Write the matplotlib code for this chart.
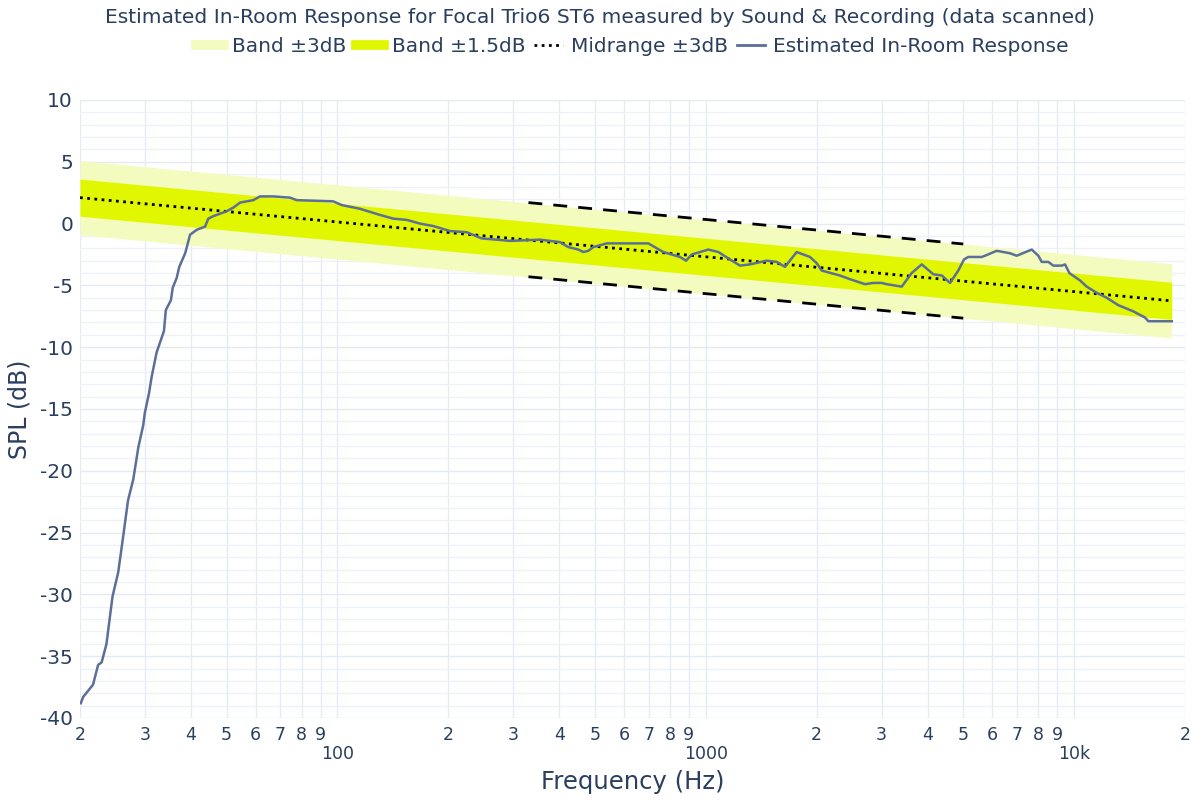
import numpy as np
import matplotlib.pyplot as plt
from matplotlib.lines import Line2D

# Estimated in-room response
freq = [20.1, 20.4, 21.7, 22.4, 22.9, 23.6, 24.5, 25.4, 26.2, 27.0, 27.9, 28.8,
        29.7, 30.0, 30.8, 31.3, 32.3, 33.0, 33.8, 34.2, 35.3, 35.7, 36.6, 37.2,
        38.6, 39.8, 41.5, 43.7, 44.6, 46.0, 50.0, 52.2, 54.4, 59.1, 61.6, 67.0,
        74.3, 77.5, 97.4, 102.7, 115.1, 130.5, 141.8, 154.2, 167.6, 182.1, 202,
        224.4, 246.4, 270.6, 294.2, 354.8, 402, 423.4, 450.9, 465.1, 479.8, 495,
        538.3, 698, 766.7, 851, 884, 915.8, 1016, 1082, 1163, 1239, 1318, 1463,
        1558, 1641, 1765, 1918, 2000, 2064, 2314, 2464, 2706, 2850, 3004, 3098,
        3404, 3622, 3858, 4148, 4372, 4603, 4848, 5024, 5160, 5612, 5730, 6164,
        6698, 6984, 7672, 7996, 8166, 8512, 8782, 9256, 9448, 9706, 10376, 10820,
        11516, 12262, 13184, 14478, 15578, 15902, 18406]
spl = [-38.8, -38.3, -37.3, -35.7, -35.5, -34.0, -30.2, -28.2, -25.3, -22.4, -20.7, -18.1,
       -16.3, -15.3, -13.7, -12.4, -10.4, -9.6, -8.7, -7.0, -6.2, -5.2, -4.4, -3.5,
       -2.4, -0.9, -0.5, -0.25, 0.4, 0.6, 1.0, 1.3, 1.7, 1.9, 2.2, 2.2,
       2.1, 1.9, 1.8, 1.5, 1.2, 0.7, 0.4, 0.3, 0.0, -0.2, -0.6,
       -0.7, -1.2, -1.3, -1.4, -1.3, -1.5, -1.9, -2.1, -2.3, -2.2, -1.9,
       -1.6, -1.6, -2.3, -2.7, -3.0, -2.5, -2.1, -2.3, -2.9, -3.4, -3.3, -3.0,
       -3.1, -3.5, -2.3, -2.7, -3.2, -3.8, -4.2, -4.5, -4.9, -4.8, -4.8, -4.9,
       -5.1, -4.0, -3.3, -4.1, -4.2, -4.8, -3.8, -2.9, -2.7, -2.7, -2.6, -2.2,
       -2.4, -2.6, -2.1, -2.6, -3.1, -3.1, -3.4, -3.4, -3.3, -4.0, -4.6, -5.1,
       -5.6, -6.0, -6.6, -7.1, -7.6, -7.9, -7.9]

# target slope (midrange line) and tolerance bands
band_f = [20, 18406]
band_mid = [2.1, -6.25]

# midrange +/-3dB limits
mid_f = [330, 5000]
mid_upper = [1.7, -1.65]
mid_lower = [-4.3, -7.65]

txt = '#2a3f5f'
plt.rcParams['font.family'] = 'DejaVu Sans'

fig = plt.figure(figsize=(12, 8), dpi=100)
ax = fig.add_axes([80/1200, 82/800, 1105/1200, 618/800])

bm = np.array(band_mid)
ax.fill_between(band_f, bm - 3, bm + 3, color='#f4fbbf', lw=0, zorder=1)
ax.fill_between(band_f, bm - 1.5, bm + 1.5, color='#e1f700', lw=0, zorder=2)
ax.plot(band_f, band_mid, color='black', lw=2, ls=(0, (1, 1.6)), zorder=3)
ax.plot(mid_f, mid_upper, color='black', lw=2, ls=(0, (5, 4)), zorder=3)
ax.plot(mid_f, mid_lower, color='black', lw=2, ls=(0, (5, 4)), zorder=3)
ax.plot(freq, spl, color='#5b6f98', lw=1.8, zorder=4)

ax.set_xscale('log')
ax.set_xlim(20, 20000)
ax.set_ylim(-40, 10)

# plotly-like log axis: digits 2..9 on top, decade labels one row lower
xt, xl = [], []
for dec in [10, 100, 1000, 10000]:
    for m in range(2, 10):
        v = m * dec
        if 20 <= v <= 20000:
            xt.append(v)
            xl.append(str(m))
dec_t = [100, 1000, 10000]
dec_l = ['100', '1000', '10k']
ax.set_xticks(xt)
ax.set_xticklabels(xl, fontsize=12.5, color=txt)
ax.set_xticks(dec_t, minor=True)
ax.set_xticklabels(dec_l, minor=True, fontsize=12.5, color=txt)
ax.set_yticks(range(-40, 11, 5))
ax.set_yticklabels([str(v) for v in range(-40, 11, 5)], fontsize=14.5, color=txt)
ax.set_yticks(range(-40, 11, 1), minor=True)
ax.tick_params(axis='both', which='both', length=0)
ax.tick_params(axis='x', which='major', pad=6)
ax.tick_params(axis='x', which='minor', pad=19.5)
ax.tick_params(axis='y', pad=5)

ax.grid(True, which='both', axis='x', color='#e6ebf3', lw=1, zorder=0)
ax.grid(True, which='major', axis='y', color='#e4eaf2', lw=1, zorder=0)
ax.grid(True, which='minor', axis='y', color='#eef2f7', lw=1, zorder=0)
ax.set_axisbelow(True)
for s in ax.spines.values():
    s.set_visible(False)

ax.set_xlabel('Frequency (Hz)', fontsize=17.5, color=txt, labelpad=5)
ax.set_ylabel('SPL (dB)', fontsize=17, color=txt, labelpad=6)

fig.suptitle('Estimated In-Room Response for Focal Trio6 ST6 measured by Sound & Recording (data scanned)',
             x=0.5, y=0.99, fontsize=14.6, color=txt)

handles = [Line2D([], [], color='#f4fbbf', lw=7),
           Line2D([], [], color='#e1f700', lw=7),
           Line2D([], [], color='black', lw=2, ls=(0, (1, 1.6))),
           Line2D([], [], color='#5b6f98', lw=2)]
labels = ['Band ±3dB', 'Band ±1.5dB', 'Midrange ±3dB', 'Estimated In-Room Response']
fig.legend(handles, labels, loc='center', bbox_to_anchor=(0.527, 0.942), ncol=4,
           frameon=False, fontsize=14.5, handlelength=1.4, handletextpad=0.4,
           columnspacing=0.45, labelcolor=txt)

fig.savefig('out.png', dpi=100)
